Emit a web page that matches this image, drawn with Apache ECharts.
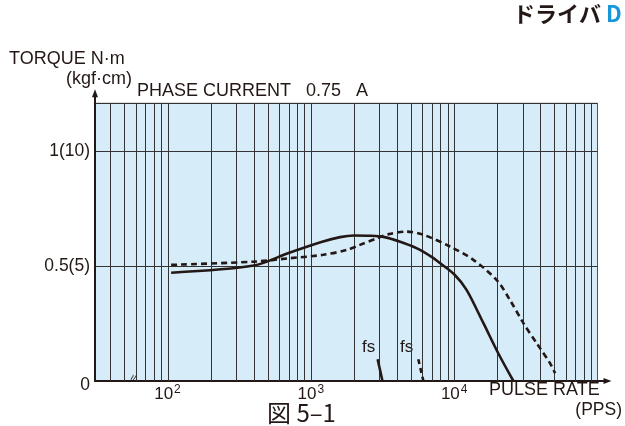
<!DOCTYPE html>
<html><head><meta charset="utf-8">
<script src="https://cdn.jsdelivr.net/npm/echarts@6/dist/echarts.min.js"></script>
<style>html,body{margin:0;padding:0;background:#fff}#c{width:625px;height:426px}</style>
</head><body><div id="c"></div>
<script>
// ---- data ----
const gridFreqs = [40,50,60,70,80,90,100,200,300,400,500,600,700,800,900,1000,
  2000,3000,4000,5000,6000,7000,8000,9000,10000,20000,30000,40000,50000,60000,70000,80000,90000];
const yTickValues = [0, 0.5, 1];
const yTickLabels = ['0', '0.5(5)', '1(10)'];
const xTickExponents = [2, 3, 4];

const solidFreq   = [106, 400, 700, 1200, 1600, 2000, 2600, 3200, 4200, 5500, 7000, 8000, 10000, 12200, 16000, 20300, 25900];
const solidTorque = [0.472, 0.503, 0.558, 0.607, 0.627, 0.634, 0.633, 0.628, 0.607, 0.578, 0.54, 0.513, 0.465, 0.397, 0.252, 0.121, 0];

const dashFreq   = [106, 400, 716, 1222, 1780, 2200, 2900, 3500, 4670, 6100, 9350, 13600, 19800, 24500, 30400, 37700, 46700, 50600];
const dashTorque = [0.506, 0.52, 0.535, 0.55, 0.571, 0.593, 0.622, 0.64, 0.651, 0.637, 0.586, 0.528, 0.44, 0.353, 0.252, 0.164, 0.077, 0.034];

const solidFsFreq = [2925, 3160];
const solidFsTorque = [0.095, 0];
const dashFsFreq = [5620, 6100];
const dashFsTorque = [0.095, 0];

const xMin = 31.2, xMax = 100000, yMax = 1.21;

// ---- chart ----
const FONT = '"Liberation Sans", Arial, Helvetica, sans-serif';
const INK = '#231815';
const pair = (xs, ys) => xs.map((x, i) => [x, ys[i]]);
const arrowPath = 'path://M3,0 L6,8 L4,8 L4,28 L2,28 L2,8 L0,8 Z';

const chart = echarts.init(document.getElementById('c'), null, {renderer: 'canvas'});
chart.setOption({
  animation: false,
  backgroundColor: '#ffffff',
  grid: {left: 95, right: 27.5, top: 103.3, bottom: 45, show: true,
         backgroundColor: '#d6ecf8', borderColor: '#555', borderWidth: 1},
  xAxis: {
    type: 'log', logBase: 10, min: xMin, max: xMax,
    axisLine: {show: true, lineStyle: {color: INK, width: 2},
               symbol: ['none', arrowPath], symbolSize: [7, 28]},
    axisTick: {show: false},
    splitLine: {show: false},
    axisLabel: {
      margin: 3, color: INK, fontFamily: FONT,
      formatter: function (v) {
        const l = Math.log10(v), e = Math.round(l);
        if (Math.abs(l - e) < 1e-6 && xTickExponents.indexOf(e) >= 0) return '{b|10}{s|' + e + '}';
        return '';
      },
      rich: {b: {fontSize: 17, fontFamily: FONT, color: INK},
             s: {fontSize: 12, fontFamily: FONT, color: INK, padding: [0, 0, 9, 1]}}
    }
  },
  yAxis: {
    type: 'value', min: 0, max: yMax, interval: 0.5,
    axisLine: {show: true, lineStyle: {color: INK, width: 2},
               symbol: ['none', arrowPath], symbolSize: [7, 28]},
    axisTick: {show: false},
    splitLine: {show: true, lineStyle: {color: '#333', width: 1}},
    axisLabel: {
      margin: 5, color: INK, fontSize: 17.5, fontFamily: FONT,
      formatter: function (v) {
        const i = yTickValues.findIndex(t => Math.abs(t - v) < 1e-9);
        if (i === 0) return '{z|' + yTickLabels[0] + '}';
        return i >= 0 ? yTickLabels[i] : '';
      },
      rich: {z: {fontSize: 17.5, fontFamily: FONT, color: INK, padding: [8, 0, 0, 0]}}
    }
  },
  series: [
    {
      type: 'custom', z: 1, silent: true, data: gridFreqs,
      renderItem: function (params, api) {
        const p0 = api.coord([api.value(0), 0]);
        const p1 = api.coord([api.value(0), yMax]);
        const x = Math.round(p0[0]) + 0.5;
        return {type: 'line', shape: {x1: x, y1: p0[1], x2: x, y2: p1[1]},
                style: {stroke: '#333', lineWidth: 1}};
      }
    },
    {type: 'line', z: 3, data: pair(solidFreq, solidTorque), smooth: 0.3, showSymbol: false,
     lineStyle: {color: INK, width: 2.6}},
    {type: 'line', z: 3, data: pair(dashFreq, dashTorque), smooth: 0.3, showSymbol: false,
     lineStyle: {color: INK, width: 2.6, type: [6, 4]}},
    {type: 'line', z: 3, data: pair(solidFsFreq, solidFsTorque), showSymbol: false,
     lineStyle: {color: INK, width: 2.6}},
    {type: 'line', z: 3, data: pair(dashFsFreq, dashFsTorque), showSymbol: false,
     lineStyle: {color: INK, width: 2.6, type: [5, 4]}}
  ],
  graphic: [
    {type: 'text', left: 9, top: 50, style: {text: 'TORQUE N·m', font: '18px ' + FONT, fill: INK}},
    {type: 'text', left: 66, top: 70, style: {text: '(kgf·cm)', font: '18px ' + FONT, fill: INK}},
    {type: 'text', left: 137, top: 82, style: {text: 'PHASE CURRENT   0.75   A', font: '18px ' + FONT, fill: INK}},
    {type: 'text', left: 489, top: 381, style: {text: 'PULSE RATE', font: '18px ' + FONT, fill: INK}},
    {type: 'text', right: 3, top: 401, style: {text: '(PPS)', font: '17.5px ' + FONT, fill: INK}},
    {type: 'text', left: 362, top: 339, style: {text: 'fs', font: '17px ' + FONT, fill: INK}},
    {type: 'text', left: 400, top: 339, style: {text: 'fs', font: '17px ' + FONT, fill: INK}},
    {type: 'text', left: 267, top: 401, style: {text: '図 5–1', font: '24px "Noto Sans CJK JP", ' + FONT, fill: INK}},
    {type: 'text', left: 513, top: 3, style: {text: 'ドライバ', font: 'bold 22px "Noto Sans CJK JP", sans-serif', fill: INK}},
    {type: 'text', left: 606, top: 3, style: {text: 'D', font: 'bold 22px "Noto Sans CJK JP", sans-serif', fill: '#1797d9'}},
    {type: 'text', left: 127, top: 373, rotation: 1.2, style: {text: '≈', font: '12px ' + FONT, fill: INK}}
  ]
});
</script>
</body></html>
